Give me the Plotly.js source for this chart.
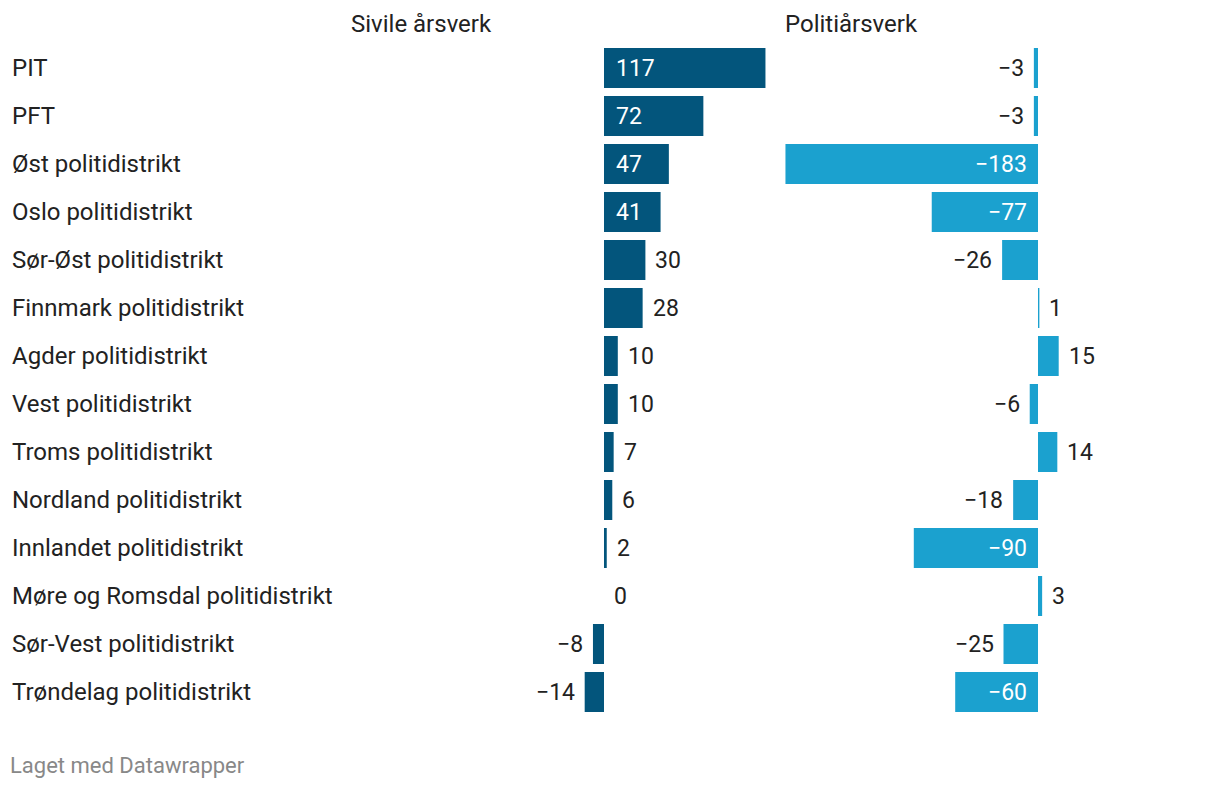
<!DOCTYPE html>
<html>
<head>
<meta charset="utf-8">
<script src="https://cdn.plot.ly/plotly-3.0.1.min.js"></script>
<style>
html,body{margin:0;padding:0;background:#fff;}
#chart{width:1220px;height:788px;}
</style>
</head>
<body>
<div id="chart"></div>
<script>
// ---- data ----
const categories = [
  "PIT","PFT","Øst politidistrikt","Oslo politidistrikt","Sør-Øst politidistrikt",
  "Finnmark politidistrikt","Agder politidistrikt","Vest politidistrikt","Troms politidistrikt",
  "Nordland politidistrikt","Innlandet politidistrikt","Møre og Romsdal politidistrikt",
  "Sør-Vest politidistrikt","Trøndelag politidistrikt"
];
const sivile = [117, 72, 47, 41, 30, 28, 10, 10, 7, 6, 2, 0, -8, -14];
const politi = [-3, -3, -183, -77, -26, 1, 15, -6, 14, -18, -90, 3, -25, -60];
const columnTitles = ["Sivile årsverk", "Politiårsverk"];
const footer = "Laget med Datawrapper";

// ---- layout constants ----
const W = 1220, H = 788;
const K = 1.38;               // px per unit
const leftZero = 604, rightZero = 1038;
const leftDom = [540, 780], rightDom = [780, 1130];
const rowTop = 44, rowPitch = 48;
const C1 = "#03557c", C2 = "#1ba1cf";
const FONT = "Roboto, 'Noto Sans', sans-serif";
const INSIDE_MIN = 35;

const n = categories.length;
const yTopPx = rowTop, yBotPx = rowTop + rowPitch * n;

function fmt(v){ return v < 0 ? "\u2212" + Math.abs(v) : String(v); }

const traces = [
  {type:"bar", orientation:"h", x:sivile, y:categories, xaxis:"x", yaxis:"y",
   marker:{color:C1}, hoverinfo:"skip"},
  {type:"bar", orientation:"h", x:politi, y:categories, xaxis:"x2", yaxis:"y",
   marker:{color:C2}, hoverinfo:"skip"}
];

const annotations = [];
categories.forEach((c,i)=>{
  annotations.push({x:10/W, xref:"paper", y:c, yref:"y", text:c, showarrow:false,
    xanchor:"left", yanchor:"middle", font:{family:FONT,size:24,color:"#222"}});
});
function valueLabels(vals, xref){
  vals.forEach((v,i)=>{
    const inside = Math.abs(v) >= INSIDE_MIN;
    const neg = v < 0;
    const a = {xref:xref, yref:"y", y:categories[i], text:fmt(v), showarrow:false,
      yanchor:"middle", font:{family:FONT,size:23,color: inside ? "#fff" : "#222"}};
    if (inside){
      a.x = 0; a.xanchor = neg ? "right" : "left"; a.xshift = neg ? -9 : 10;
    } else {
      a.x = v; a.xanchor = neg ? "right" : "left"; a.xshift = neg ? -8 : 8;
    }
    annotations.push(a);
  });
}
valueLabels(sivile, "x");
valueLabels(politi, "x2");

annotations.push({x:421/W, xref:"paper", y:1-24/H, yref:"paper", text:columnTitles[0],
  showarrow:false, xanchor:"center", yanchor:"middle", font:{family:FONT,size:24,color:"#222"}});
annotations.push({x:851/W, xref:"paper", y:1-24/H, yref:"paper", text:columnTitles[1],
  showarrow:false, xanchor:"center", yanchor:"middle", font:{family:FONT,size:24,color:"#222"}});
annotations.push({x:8/W, xref:"paper", y:1-765/H, yref:"paper", text:footer,
  showarrow:false, xanchor:"left", yanchor:"middle", font:{family:FONT,size:22,color:"#888"}});

const axHidden = {showgrid:false, zeroline:false, showticklabels:false, showline:false, ticks:"", fixedrange:true};

const layout = {
  width:W, height:H, margin:{l:0,r:0,t:0,b:0}, paper_bgcolor:"#fff", plot_bgcolor:"#fff",
  showlegend:false, bargap:8/48, barmode:"group",
  xaxis: Object.assign({}, axHidden, {domain:[leftDom[0]/W, leftDom[1]/W],
    range:[(leftDom[0]-leftZero)/K, (leftDom[1]-leftZero)/K]}),
  xaxis2: Object.assign({}, axHidden, {domain:[rightDom[0]/W, rightDom[1]/W], anchor:"y",
    range:[(rightDom[0]-rightZero)/K, (rightDom[1]-rightZero)/K]}),
  yaxis: Object.assign({}, axHidden, {type:"category", categoryorder:"array", categoryarray:categories,
    range:[n-0.5, -0.5], domain:[1-yBotPx/H, 1-yTopPx/H]}),
  annotations: annotations
};

Plotly.newPlot("chart", traces, layout, {staticPlot:true, displayModeBar:false});
</script>
</body>
</html>
